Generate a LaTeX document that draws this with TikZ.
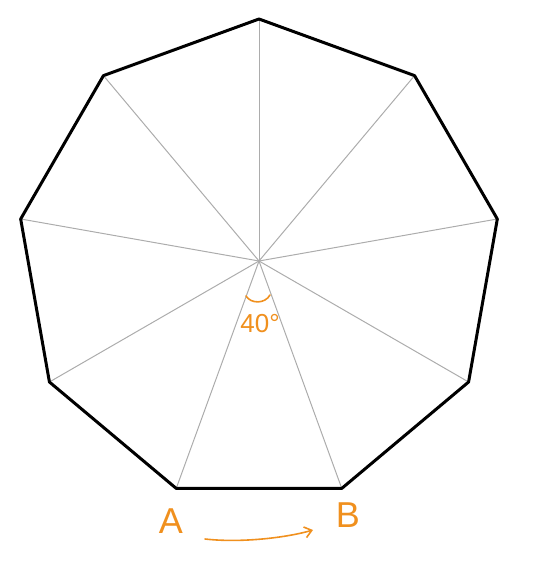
\documentclass[tikz,border=0pt]{standalone}
\usepackage{fontspec}
\setmainfont{Liberation Sans}
\usetikzlibrary{arrows.meta,calc}
\definecolor{hand}{HTML}{F0901E}
\tikzset{
  spoke/.style={draw=gray!65, line width=1pt},
  rim/.style={draw=black, line width=3pt, line join=round},
  annot/.style={text=hand, font=\fontsize{26}{28}\selectfont, inner sep=0pt},
  bigannot/.style={text=hand, font=\fontsize{36}{38}\selectfont, inner sep=0pt},
  handline/.style={draw=hand, line width=1.6pt, line cap=round}
}
\begin{document}
\begin{tikzpicture}[x=1pt,y=-1pt]
\useasboundingbox (0,0) rectangle (558,562);
\coordinate (c) at (259,261);
\foreach \i in {0,...,8} {
  \coordinate (v\i) at ($(c)+({242*sin(40*\i)},{-242*cos(40*\i)})$);
}
\foreach \i in {0,...,8} { \draw[spoke] (c) -- (v\i); }
\draw[rim] (v0) -- (v1) -- (v2) -- (v3) -- (v4) -- (v5) -- (v6) -- (v7) -- (v8) -- cycle;
\coordinate (a1) at (246,296);
\coordinate (a2) at (270,295);
\draw[handline] (a1) .. controls (251,304) and (265,304) .. (a2);
\node[annot] (ang) at (260,324) {40°};
\node[bigannot] (A) at (171,521) {A};
\node[bigannot] (B) at (348,515) {B};
\coordinate (s) at (205,539);
\coordinate (e) at (313,530);
\draw[handline, -{Straight Barb[length=7pt,width=11pt]}] (s) .. controls (240,543) and (285,538) .. (e);
\end{tikzpicture}
\end{document}
